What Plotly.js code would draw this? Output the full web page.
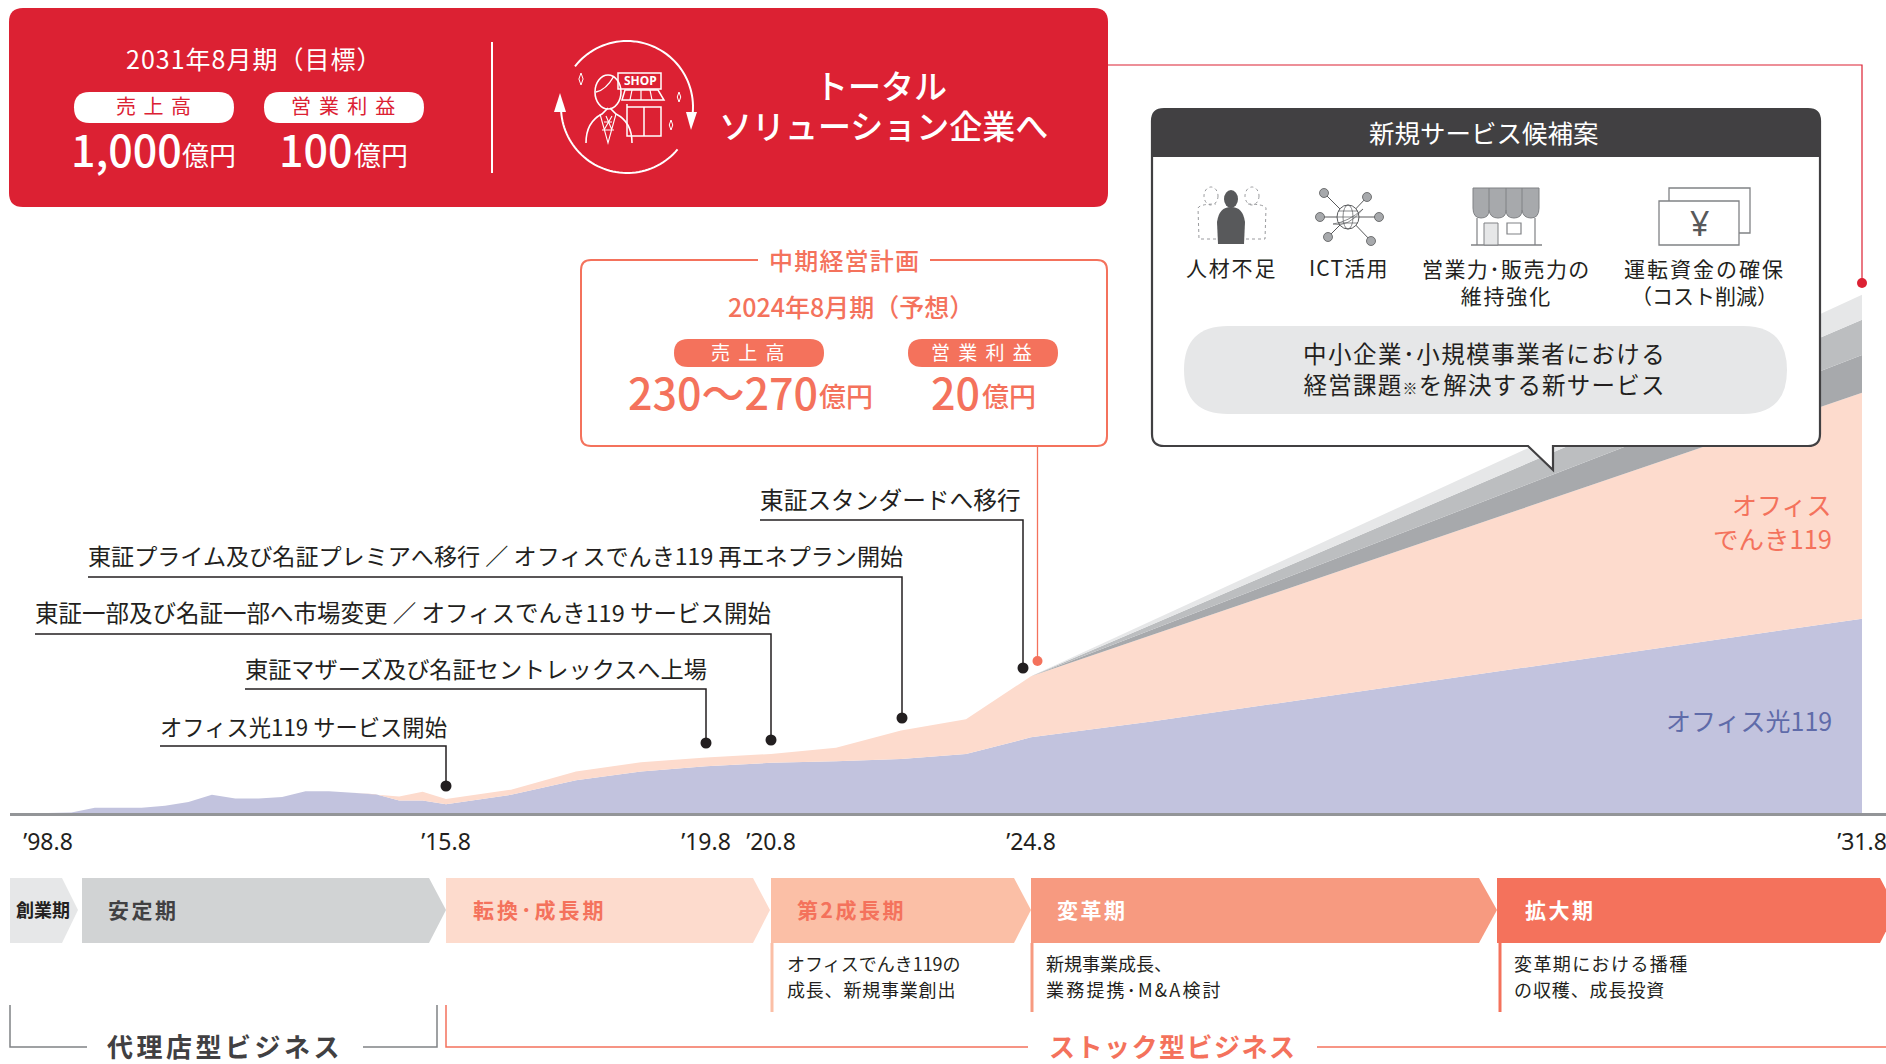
<!DOCTYPE html>
<html lang="ja"><head><meta charset="utf-8">
<script src="https://cdn.plot.ly/plotly-3.0.1.min.js"></script>
<style>html,body{margin:0;padding:0;background:#fff}#c{width:1886px;height:1064px}</style></head>
<body><div id="c"></div>
<script>
const fiscalYears=[1998,1999,2000,2001,2002,2003,2004,2005,2006,2007,2008,2009,2010,2011,2012,2013,2014,2015,2016,2017,2018,2019,2020,2021,2022,2023,2024,2025,2031];
const officeHikari=[0,1,10,10,10,14,21,35,28,28,31,42,42,39,36,24,24,17,35,63,80,90,97,100,104,114,146,176,375];
const officeDenki=[0,0,0,0,0,0,0,0,0,0,0,0,0,0,0,8,17,10,10,17,18,17,17,26,55,67,118,166,436];
const newServiceA=[0,0,0,0,0,0,0,0,0,0,0,0,0,0,0,0,0,0,0,0,0,0,0,0,0,0,0,10,73];
const newServiceB=[0,0,0,0,0,0,0,0,0,0,0,0,0,0,0,0,0,0,0,0,0,0,0,0,0,0,0,10,68];
const newServiceC=[0,0,0,0,0,0,0,0,0,0,0,0,0,0,0,0,0,0,0,0,0,0,0,0,0,0,0,7,48];
const tickYears=[1998,2015,2019,2020,2024,2031];
const tickLabels=["’98.8","’15.8","’19.8","’20.8","’24.8","’31.8"];
const phases=["創業期","安定期","転換･成長期","第2成長期","変革期","拡大期"];

const W=1886,H=1064,JP='"Noto Sans CJK JP","Noto Sans",sans-serif';
const RED='#dc2133',COR='#f4725c',INK='#231f20',DK='#414042';
const fx=x=>x/W, fy=y=>1-y/H;
const shapes=[],ann=[];
const P=(s)=>s.replace(/(-?[\d.]+)[ ,]+(-?[\d.]+)/g,(m,a,b)=>fx(+a)+' '+fy(+b));
function path(d,o={}){shapes.push({type:'path',xref:'paper',yref:'paper',path:P(d),fillcolor:o.fill||'rgba(0,0,0,0)',line:{color:o.color||'rgba(0,0,0,0)',width:o.width===undefined?(o.color?1:0):o.width,dash:o.dash||'solid'},layer:'above'});}
function rr(x0,y0,x1,y1,r){return `M${x0+r} ${y0}L${x1-r} ${y0}Q${x1} ${y0} ${x1} ${y0+r}L${x1} ${y1-r}Q${x1} ${y1} ${x1-r} ${y1}L${x0+r} ${y1}Q${x0} ${y1} ${x0} ${y1-r}L${x0} ${y0+r}Q${x0} ${y0} ${x0+r} ${y0}Z`;}
function circ(cx,cy,rx,ry,o={}){ry=ry||rx;shapes.push({type:'circle',xref:'paper',yref:'paper',x0:fx(cx-rx),x1:fx(cx+rx),y0:fy(cy+ry),y1:fy(cy-ry),fillcolor:o.fill||'rgba(0,0,0,0)',line:{color:o.color||'rgba(0,0,0,0)',width:o.width===undefined?(o.color?1:0):o.width,dash:o.dash||'solid'},layer:'above'});}
function line(d,color,width){path(d,{color,width});}
function T(text,x,y,size,color,anchor='center',o={}){const t=o.ls?`<span style="letter-spacing:${o.ls}px">${text}</span>`:text;ann.push({text:t,x:fx(x),y:fy(y-2),xref:'paper',yref:'paper',showarrow:false,xanchor:anchor,yanchor:'middle',borderpad:0,borderwidth:0,font:{family:o.family||JP,size,color,weight:o.weight||400}});}
function arc(cx,cy,r,a0,a1){let s='';const n=48;for(let i=0;i<=n;i++){const a=(a0+(a1-a0)*i/n)*Math.PI/180;s+=(i?'L':'M')+(cx+r*Math.cos(a)).toFixed(2)+' '+(cy+r*Math.sin(a)).toFixed(2);}return s;}
function spark(x,y,r,c){path(`M${x} ${y-r}L${x+r*.35} ${y}L${x} ${y+r}L${x-r*.35} ${y}Z`,{color:c,width:1});}

/* connectors (beneath boxes) */
line('M1107 65L1862 65L1862 283',RED,1.2); circ(1862,283,5,5,{fill:RED});
line('M1037.5 446L1037.5 661',COR,1.3); circ(1037.5,661,5,5,{fill:COR});

/* red target panel */
path(rr(9,8,1108,207,14),{fill:RED});
T('2031年8月期（目標）',254,60,25,'#fff','center',{ls:1});
path(rr(74,92,234,123,15.5),{fill:'#fff'}); T('売 上 高',154,107.5,20,RED,'center',{ls:1.5});
path(rr(264,92,424,123,15.5),{fill:'#fff'}); T('営 業 利 益',344,107.5,20,RED,'center',{ls:1.8});
T('1,000',71,150,43,'#fff','left',{weight:500}); T('億円',182,156,27,'#fff','left');
T('100',279,150,43,'#fff','left',{weight:500}); T('億円',354,156,27,'#fff','left');
line('M492 42L492 173','#fff',2);
T('トータル',881,87,33,'#fff',"center",{weight:500});
T('ソリューション企業へ',883,127,33,'#fff',"center",{weight:500});
/* target-panel icon */
line(arc(627,107,66,-142,5),'#fff',2); line(arc(627,107,66,40,176),'#fff',2);
path('M691 130L686 112L697 112Z',{fill:'#fff'}); path('M560 93L554 112L566 112Z',{fill:'#fff'});
line('M618 73L661 73L661 89L618 89Z','#fff',1.5);
T('SHOP',640,83,12,'#fff','center',{weight:700,family:'"Noto Sans",sans-serif'});
line('M625 90L658 90L664 100L622 100Z','#fff',1.5);
line('M632 90L630 100M641 90L641 100M650 90L652 100','#fff',1.2);
line('M627 104L627 136L661 136L661 107L627 107M644 107L644 136','#fff',1.5);
circ(608,92,13,17,{color:'#fff',width:1.6});
line('M596 92Q606 90 614 76','#fff',1.4);
line('M586 143Q586 122 602 114L608 108M632 143Q632 122 616 114L610 108','#fff',1.6);
line('M600 114L608 143L616 114M604 122L612 122M602 130L614 130M606 116L612 130M612 116L604 130','#fff',1.1);
spark(581,79,6,'#fff'); spark(679,97,5,'#fff'); spark(671,125,5,'#fff');

/* mid-term plan box */
path(rr(581,260,1107,446,10),{fill:'#fff',color:COR,width:2});
path('M758 255L930 255L930 265L758 265Z',{fill:'#fff'});
T('中期経営計画',844,261,24,COR,'center',{weight:500,ls:1.2});
T('2024年8月期（予想）',851,308,25,COR,'center',{weight:500});
path(rr(674,339,824,367,14),{fill:COR}); T('売 上 高',749,353,19,'#fff','center',{ls:2});
path(rr(908,339,1058,367,14),{fill:COR}); T('営 業 利 益',983,353,19,'#fff','center',{ls:2});
T('230～270',628,393,43,COR,'left',{weight:500}); T('億円',819,398,27,COR,'left',{weight:500});
T('20',931,393,43,COR,'left',{weight:500}); T('億円',982,398,27,COR,'left',{weight:500});

/* milestone labels */
function milestone(text,x0,x1,yt,yl,yd,size){T(text,x0,yt,size,INK,'left');line(`M${x0} ${yl}L${x1} ${yl}L${x1} ${yd}`,INK,1.5);circ(x1,yd,5.5,5.5,{fill:INK});}
milestone('東証スタンダードへ移行',760,1023,501,520,668,23.7);
milestone('東証プライム及び名証プレミアへ移行 ／ オフィスでんき119 再エネプラン開始',88,902,557,577,718,23.1);
milestone('東証一部及び名証一部へ市場変更 ／ オフィスでんき119 サービス開始',35,771,614,634,740,23.5);
milestone('東証マザーズ及び名証セントレックスへ上場',245,706,670,689,743,23.2);
milestone('オフィス光119 サービス開始',160,446,728,746,786,22.3);

/* series labels */
T('オフィス',1832,506,25,COR,'right'); T('でんき119',1832,539,25.5,COR,'right');
T('オフィス光119',1832,722,25,'#5f6ba9','right');

/* callout */
path('M1164 109L1808 109Q1820 109 1820 121L1820 434Q1820 446 1808 446L1553 446L1553 470L1528 446L1164 446Q1152 446 1152 434L1152 121Q1152 109 1164 109Z',{fill:'#fff',color:DK,width:2.2});
path('M1152 157L1152 121Q1152 109 1164 109L1808 109Q1820 109 1820 121L1820 157Z',{fill:DK});
T('新規サービス候補案',1484,133,25.5,'#fff');
/* people */
path('M1218 244L1217 222Q1219 207 1231 207Q1243 207 1245 222L1244 244Z',{fill:'#58595b'});
circ(1231,199,7,9,{fill:'#58595b'});
circ(1211,196,7,9,{color:'#808285',width:.8,dash:'dot'}); circ(1252,196,7,9,{color:'#808285',width:.8,dash:'dot'});
path('M1216 239L1199 239L1198 208Q1200 204 1216 204',{color:'#808285',width:.8,dash:'dot'});
path('M1246 239L1265 239L1266 208Q1264 204 1246 204',{color:'#808285',width:.8,dash:'dot'});
/* network */
[[1324,193],[1367,197],[1320,217],[1379,217],[1328,237],[1371,241]].forEach(n=>{line(`M1348 217L${n[0]} ${n[1]}`,'#58595b',1);circ(n[0],n[1],4.5,4.5,{fill:'#a7a9ac',color:'#58595b',width:.8});});
circ(1348,217,11,12,{fill:'#fff',color:'#58595b',width:1});
circ(1348,217,5,12,{color:'#58595b',width:.7}); line('M1337 217L1359 217M1338 211L1358 211M1338 223L1358 223','#58595b',.7);
line('M1333 224Q1348 222 1363 209M1333 224Q1348 228 1363 209','#58595b',.7);
/* store */
line('M1471 245L1542 245','#808285',1.4); line('M1477 218L1477 245M1535 218L1535 245','#808285',1.2);
path('M1473 188L1539 188L1539 208Q1539 218 1531 218Q1523 218 1522 210Q1522 218 1514 218Q1506 218 1506 210Q1506 218 1498 218Q1490 218 1489 210Q1489 218 1481 218Q1473 218 1473 208Z',{fill:'#a7a9ac',color:'#808285',width:1});
line('M1489 188L1489 210M1506 188L1506 210M1522 188L1522 210','#808285',1);
path('M1484 245L1484 223L1498 223L1498 245Z',{fill:'#e6e7e8',color:'#808285',width:1});
line('M1507 223L1521 223L1521 234L1507 234Z','#808285',1.2);
/* money */
line('M1669 201L1669 188L1750 188L1750 233L1739 233','#808285',1.3);
path('M1659 201L1739 201L1739 245L1659 245Z',{fill:'#fff',color:'#808285',width:1.3});
T('¥',1699,225,34,'#58595b','center',{family:'"Noto Sans",sans-serif'});
T('<span style="letter-spacing:1.8px">人材不足</span>',1231,269,21,INK); T('ICT活用',1349,269,21,INK,'center',{ls:1.2});
T('<span style="letter-spacing:1.4px">営業力･販売力の</span><br><span style="letter-spacing:1.8px">維持強化</span>',1506,283,21,INK);
T('<span style="letter-spacing:2px">運転資金の確保</span><br>（コスト削減）',1704,283,21,INK);
path(rr(1184,326,1787,414,44),{fill:'#e6e7e8'});
T('<span style="letter-spacing:1.5px">中小企業･小規模事業者における</span><br><span style="letter-spacing:1.2px">経営課題<span style="font-size:15px">※</span>を解決する新サービス</span>',1484,370,23.5,INK);

/* phase chevrons */
const chev=[[10,62,78,'#e6e7e8',43,'center',INK,18,0],[82,429,446,'#d1d3d4',108,'left',DK,21,2.5],[446,753,770,'#fddbcd',473,'left',COR,21,3],[771,1014,1031,'#fbbfa6',797,'left',COR,21,2.5],[1031,1479,1497,'#f79a80',1057,'left','#fff',21,2.5],[1497,1880,1897,'#f4725c',1525,'left','#fff',21,2.5]];
chev.forEach((c,i)=>{path(`M${c[0]} 878L${c[1]} 878L${c[2]} 910L${c[1]} 943L${c[0]} 943Z`,{fill:c[3]});T(phases[i],c[4],911,c[7],c[6],c[5],{weight:700,ls:c[8]});});
[[772,'#fbbfa6'],[1032,'#f79a80'],[1500,'#f4725c']].forEach(b=>line(`M${b[0]} 943L${b[0]} 1012`,b[1],3));
T('オフィスでんき119の',787,965,18,INK,'left'); T('成長、新規事業創出',787,991,18,INK,'left',{ls:.8});
T('新規事業成長、',1046,965,18,INK,'left'); T('業務提携･M&amp;A検討',1046,991,18,INK,'left',{ls:2.2});
T('変革期における播種',1514,965,18,INK,'left',{ls:1.4}); T('の収穫、成長投資',1514,991,18,INK,'left',{ls:.9});

/* business brackets */
line('M10 1005L10 1047L87 1047','#808285',1.5); line('M363 1047L437 1047L437 1005','#808285',1.5);
T('代理店型ビジネス',225,1047,26,DK,'center',{weight:700,ls:3.5});
line('M446 1005L446 1047L1028 1047',COR,1.5); line('M1317 1047L1886 1047',COR,1.5);
T('ストック型ビジネス',1173,1047,26,COR,'center',{weight:700,ls:1.5});

/* stacked areas, one x axis per time scale of the picture */
const scales=[{ax:'x',key:'xaxis',from:1998,to:2015,range:[1998-38/23.41,2015],dom:[10,446]},
              {ax:'x2',key:'xaxis2',from:2015,to:2024,range:[2015,2024],dom:[446,1031]},
              {ax:'x3',key:'xaxis3',from:2024,to:2031,range:[2024,2031+24/118.7],dom:[1031,1886]}];
const series=[[officeHikari,'#c2c3de','オフィス光119'],[officeDenki,'#fddbcd','オフィスでんき119'],[newServiceA,'#a7a9ac','新規A'],[newServiceB,'#bcbec0','新規B'],[newServiceC,'#e6e7e8','新規C']];
const traces=[];const layoutAxes={};
scales.forEach(s=>{
  const idx=fiscalYears.map((y,i)=>i).filter(i=>fiscalYears[i]>=s.from&&fiscalYears[i]<=s.to);
  series.forEach(se=>{
    traces.push({type:'scatter',mode:'lines',stackgroup:'g'+s.ax,xaxis:s.ax,yaxis:'y',x:idx.map(i=>fiscalYears[i]),y:idx.map(i=>se[0][i]),name:se[2],line:{width:0,color:se[1]},fillcolor:se[1],hoverinfo:'skip',showlegend:false});
  });
  const ticks=tickYears.map((y,i)=>[y,tickLabels[i]]).filter(t=>t[0]>s.from-(s.from===1998?1:0)&&t[0]<=s.to);
  layoutAxes[s.key]={domain:[s.dom[0]/W,s.dom[1]/W],range:s.range,anchor:'y',showgrid:false,zeroline:false,showline:true,linecolor:'#939598',linewidth:3,fixedrange:true,ticklabeloverflow:'allow',
    tickmode:'array',tickvals:ticks.map(t=>t[0]),ticktext:ticks.map(t=>t[1]),ticks:'outside',ticklen:6,tickcolor:'rgba(0,0,0,0)',tickfont:{family:'"Noto Sans",sans-serif',size:23,color:INK}};
});
const layout=Object.assign({width:W,height:H,margin:{l:0,r:0,t:0,b:0,pad:0},paper_bgcolor:'#fff',plot_bgcolor:'rgba(0,0,0,0)',showlegend:false,
  yaxis:{domain:[(H-813)/H,1],range:[0,813*1.93],visible:false,fixedrange:true,anchor:'x'},shapes,annotations:ann},layoutAxes);
Plotly.newPlot('c',traces,layout,{staticPlot:true,displayModeBar:false});
</script></body></html>
